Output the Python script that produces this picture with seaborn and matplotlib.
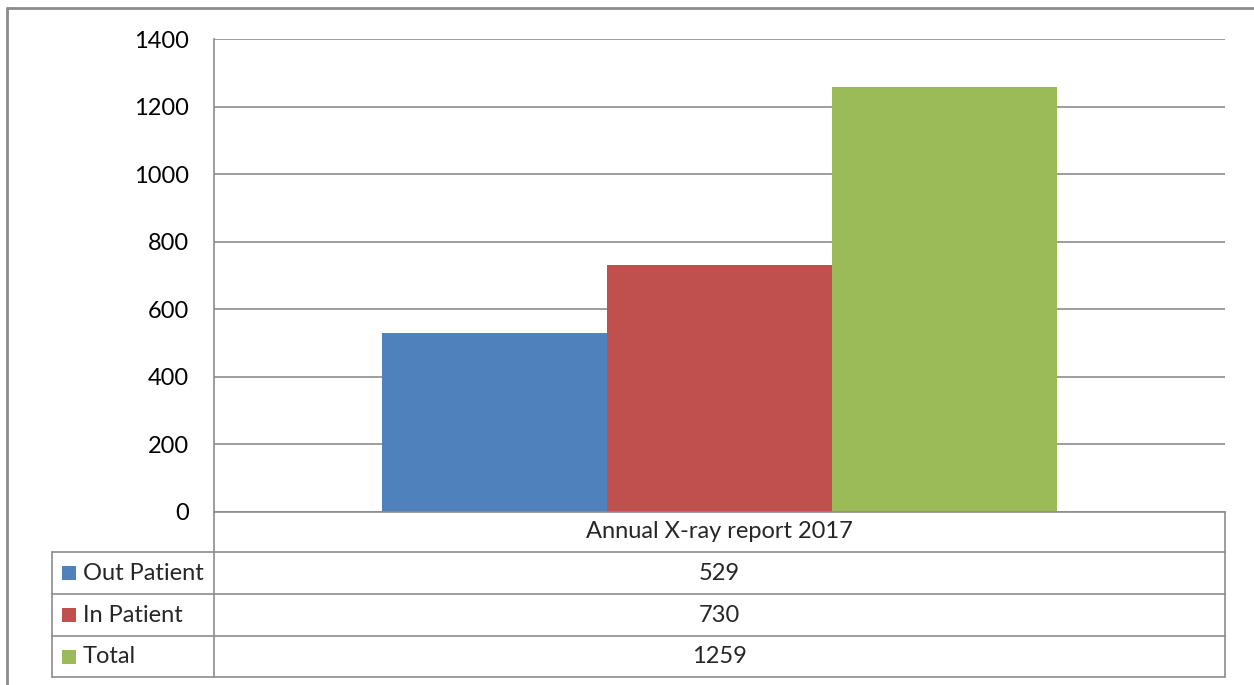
import numpy as np
import pandas as pd
import matplotlib
matplotlib.use("Agg")
import matplotlib.pyplot as plt
from matplotlib.lines import Line2D
from matplotlib.patches import Rectangle
import seaborn as sns

# Data
category = ["Annual X-ray report 2017"]
series = ["Out Patient", "In Patient", "Total"]
values = [529, 730, 1259]
colors = ["#4F81BD", "#C0504D", "#9BBB59"]
yticks = [0, 200, 400, 600, 800, 1000, 1200, 1400]

df = pd.DataFrame({"category": category * len(series), "series": series, "value": values})

W, H = 1254, 685
sns.set_style("white")
plt.rcParams["font.family"] = ["Lato", "DejaVu Sans"]
FS = 17

fig = plt.figure(figsize=(W / 100, H / 100), dpi=100)

def fx(px):
    return px / W

def fy(py):
    return 1 - py / H

grid_c = "#8C8C8C"

# plot area in pixel terms
L, R, T, B = 214, 1225, 39, 512
ax = fig.add_axes([fx(L), fy(B), fx(R) - fx(L), fy(T) - fy(B)])
sns.barplot(data=df, x="category", y="value", hue="series", palette=colors,
            width=0.668, gap=0, saturation=1, legend=False, linewidth=0, ax=ax)
ax.set_xlim(-0.5, 0.5)
ax.set_ylim(0, 1400)
ax.set_yticks(yticks)
ax.set_yticklabels([str(t) for t in yticks], fontsize=FS)
ax.set_xticks([])
ax.set_xlabel("")
ax.set_ylabel("")
ax.yaxis.grid(True, color=grid_c, linewidth=1.2)
ax.set_axisbelow(True)
ax.tick_params(axis="y", length=0, pad=18)
for s in ["top", "right", "bottom"]:
    ax.spines[s].set_visible(False)
ax.spines["left"].set_color(grid_c)
ax.spines["left"].set_linewidth(1.2)
for lbl in ax.get_yticklabels():
    lbl.set_color("black")

# outer chart border
fig.add_artist(Line2D([fx(7), 1], [fy(8), fy(8)], color="#8C8C8C", lw=2))
fig.add_artist(Line2D([fx(7), fx(7)], [fy(8), 0], color="#8C8C8C", lw=2))

# data table
rows_y = [552, 594, 636, 677]
left_col = 52
fig.add_artist(Line2D([fx(L), fx(R)], [fy(B), fy(B)], color=grid_c, lw=1.2))
for y in rows_y:
    fig.add_artist(Line2D([fx(left_col), fx(R)], [fy(y), fy(y)], color=grid_c, lw=1.2))
fig.add_artist(Line2D([fx(left_col), fx(left_col)], [fy(rows_y[0]), fy(rows_y[-1])], color=grid_c, lw=1.2))
fig.add_artist(Line2D([fx(L), fx(L)], [fy(B), fy(rows_y[-1])], color=grid_c, lw=1.2))
fig.add_artist(Line2D([fx(R), fx(R)], [fy(B), fy(rows_y[-1])], color=grid_c, lw=1.2))

mid_x = (L + R) / 2
fig.text(fx(mid_x), fy((B + rows_y[0]) / 2), category[0], ha="center", va="center", fontsize=FS)
for i, (name, val, c) in enumerate(zip(series, values, colors)):
    yc = (rows_y[i] + rows_y[i + 1]) / 2
    fig.add_artist(Rectangle((fx(62), fy(yc + 7)), fx(14), fy(yc - 7) - fy(yc + 7),
                             facecolor=c, edgecolor="none"))
    fig.text(fx(83), fy(yc), name, ha="left", va="center", fontsize=FS)
    fig.text(fx(mid_x), fy(yc), str(val), ha="center", va="center", fontsize=FS)

fig.savefig("out.png", dpi=100)
